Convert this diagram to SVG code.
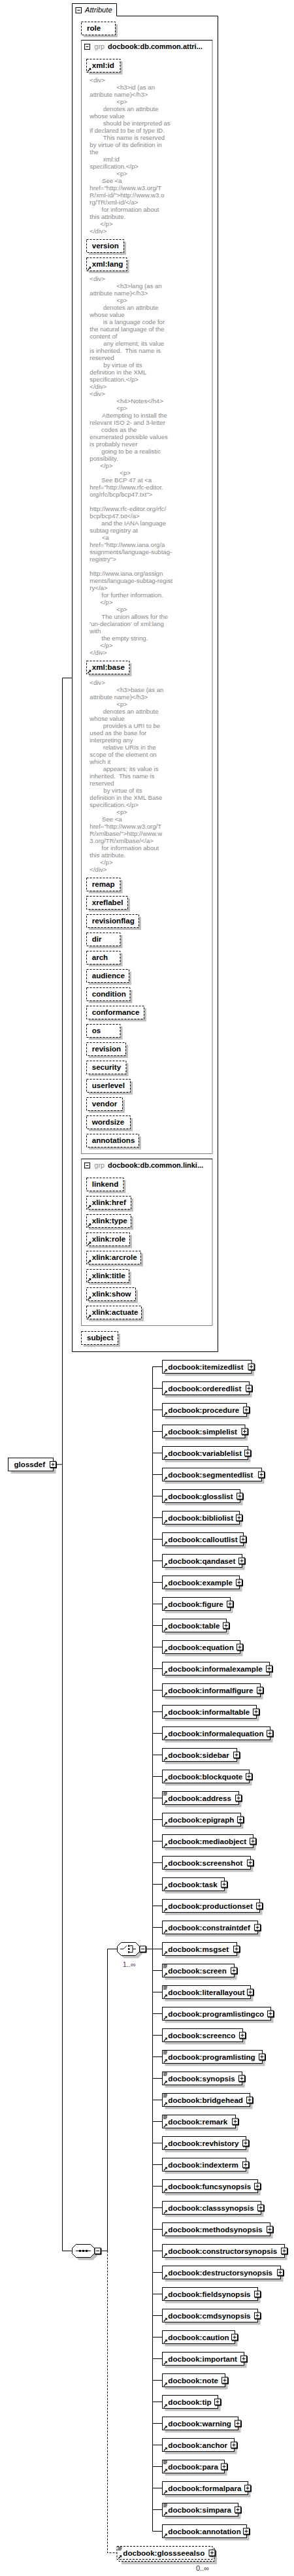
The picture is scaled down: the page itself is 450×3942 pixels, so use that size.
<svg xmlns="http://www.w3.org/2000/svg" xmlns:xlink="http://www.w3.org/1999/xlink" width="450" height="3942" viewBox="0 0 450 3942">
<style>
.d{font-family:"Liberation Sans",Arial,sans-serif;font-size:9.6px;fill:#888}
.en{font-family:"Liberation Sans",Arial,sans-serif;font-size:11.6px;font-weight:bold;fill:#000}
.gn{font-family:"Liberation Sans",Arial,sans-serif;font-size:11px;font-weight:bold;fill:#000}
.gl{font-family:"Liberation Sans",Arial,sans-serif;font-size:11px;fill:#888}
.ab{fill:#fff;stroke:#000;stroke-dasharray:3,2}
.sh{fill:#c0c0c0}
.eb{fill:#fff;stroke:#000}
.ln{stroke:#000;fill:none}
.dl{stroke:#000;fill:none;stroke-dasharray:3,2}
.gb{fill:none;stroke:#808080}
</style>
<defs>
<g id="pl"><rect x="1" y="1" width="10" height="10" fill="#000"/><rect x="0.5" y="0.5" width="9" height="9" fill="#fff" stroke="#000"/><path d="M2.5,5H7.5M5,2.5V7.5" stroke="#000"/></g>
<g id="mi"><rect x="1" y="1" width="10" height="10" fill="#000"/><rect x="0.5" y="0.5" width="9" height="9" fill="#fff" stroke="#000"/><path d="M2.5,5H7.5" stroke="#000"/></g>
<g id="ar"><path d="M2.3,18.7L5.6,15.4" stroke="#000" stroke-width="1.3"/><path d="M3.8,13.8H7.2V17.2Z" fill="#000"/></g>
<path id="mx" d="M1.5,1.5h6M1.5,3.5h6M1.5,5.5h5" stroke="#000" fill="none"/>
<polygon id="oc" points="6,-10 28,-10 34,-4 34,4 28,10 6,10 0,4 0,-4"/>
</defs>

<g id="connectors">
<path class="ln" d="M95.5,1037.5V3444.5M95.5,1037.5H110.5M87,2241H95.5M95.5,3444.5H110.5M155.5,3444.5H164.5M164.5,2982.5V3444.5M164.5,2982.5H179.5M224.5,2982.5H233.5M233.5,2091.5V3873.5"/>
<path class="dl" d="M164.5,3444.5V3906.5H179"/>
<path class="ln" d="M233.5,2091.5h15M233.5,2124.5h15M233.5,2157.5h15M233.5,2190.5h15M233.5,2223.5h15M233.5,2256.5h15M233.5,2289.5h15M233.5,2322.5h15M233.5,2355.5h15M233.5,2388.5h15M233.5,2421.5h15M233.5,2454.5h15M233.5,2487.5h15M233.5,2520.5h15M233.5,2553.5h15M233.5,2586.5h15M233.5,2619.5h15M233.5,2652.5h15M233.5,2685.5h15M233.5,2718.5h15M233.5,2751.5h15M233.5,2784.5h15M233.5,2817.5h15M233.5,2850.5h15M233.5,2883.5h15M233.5,2916.5h15M233.5,2949.5h15M233.5,2982.5h15M233.5,3015.5h15M233.5,3048.5h15M233.5,3081.5h15M233.5,3114.5h15M233.5,3147.5h15M233.5,3180.5h15M233.5,3213.5h15M233.5,3246.5h15M233.5,3279.5h15M233.5,3312.5h15M233.5,3345.5h15M233.5,3378.5h15M233.5,3411.5h15M233.5,3444.5h15M233.5,3477.5h15M233.5,3510.5h15M233.5,3543.5h15M233.5,3576.5h15M233.5,3609.5h15M233.5,3642.5h15M233.5,3675.5h15M233.5,3708.5h15M233.5,3741.5h15M233.5,3774.5h15M233.5,3807.5h15M233.5,3840.5h15M233.5,3873.5h15"/>
</g>

<g id="attributes">
<path d="M110.5,2068.5V5.5H178.5V24.5H333.5V2068.5Z" fill="#fff" stroke="#000"/>
<rect x="116" y="11.5" width="8.5" height="8.5" fill="#fff" stroke="#000"/><path d="M118,15.75H122.5" stroke="#000"/>
<text x="130" y="19" font-family="Liberation Sans, Arial, sans-serif" font-size="11.2" font-style="italic">Attribute</text>

<g id="a-role"><rect class="sh" x="128" y="37" width="52" height="20"/><rect class="ab" x="124.5" y="33.5" width="52" height="20"/><text class="en" x="133" y="46.8">role</text></g>

<g id="grp-common">
<rect class="gb" x="124.5" y="61.5" width="200.5" height="1704"/>
<path class="ln" d="M124.5,61.5H325"/>
<rect x="129.5" y="67.5" width="8" height="8" fill="#fff" stroke="#000"/><path d="M131.5,71.5H135.5" stroke="#000"/>
<text class="gl" x="144.3" y="74.5">grp</text>
<text class="gn" x="165" y="74.5">docbook:db.common.attri...</text>

<g id="a-xmlid"><rect class="sh" x="136" y="94" width="51.5" height="20"/><rect class="ab" x="132.5" y="90.5" width="51.5" height="20"/><use href="#ar" x="132" y="90.5"/><text class="en" x="140.7" y="103.8">xml:id</text></g>
<text class="d" y="125.7"><tspan x="137.3">&lt;div&gt;</tspan>
<tspan x="178.3" dy="11">&lt;h3&gt;id (as an</tspan>
<tspan x="137.3" dy="11">attribute name)&lt;/h3&gt;</tspan>
<tspan x="178.3" dy="11">&lt;p&gt;</tspan>
<tspan x="157.7" dy="11">denotes an attribute</tspan>
<tspan x="137.3" dy="11">whose value</tspan>
<tspan x="157.7" dy="11">should be interpreted as</tspan>
<tspan x="137.3" dy="11">if declared to be of type ID.</tspan>
<tspan x="157.7" dy="11">This name is reserved</tspan>
<tspan x="137.3" dy="11">by virtue of its definition in</tspan>
<tspan x="137.3" dy="11">the</tspan>
<tspan x="157.7" dy="11">xml:id</tspan>
<tspan x="137.3" dy="11">specification.&lt;/p&gt;</tspan>
<tspan x="178.3" dy="11">&lt;p&gt;</tspan>
<tspan x="156" dy="11">See &lt;a</tspan>
<tspan x="137.3" dy="11">href="http://www.w3.org/T</tspan>
<tspan x="137.3" dy="11">R/xml-id/"&gt;http://www.w3.o</tspan>
<tspan x="137.3" dy="11">rg/TR/xml-id/&lt;/a&gt;</tspan>
<tspan x="155.5" dy="11">for information about</tspan>
<tspan x="137.3" dy="11">this attribute.</tspan>
<tspan x="153.3" dy="11">&lt;/p&gt;</tspan>
<tspan x="137.3" dy="11">&lt;/div&gt;</tspan></text>

<g id="a-version"><rect class="sh" x="136" y="370" width="57" height="20"/><rect class="ab" x="132.5" y="366.5" width="57" height="20"/><text class="en" x="140.7" y="379.8">version</text></g>
<g id="a-xmllang"><rect class="sh" x="136" y="398" width="61.5" height="20"/><rect class="ab" x="132.5" y="394.5" width="61.5" height="20"/><use href="#ar" x="132" y="394.5"/><text class="en" x="140.7" y="407.8">xml:lang</text></g>
<text class="d" y="430.2"><tspan x="137.3">&lt;div&gt;</tspan>
<tspan x="178.3" dy="11">&lt;h3&gt;lang (as an</tspan>
<tspan x="137.3" dy="11">attribute name)&lt;/h3&gt;</tspan>
<tspan x="178.3" dy="11">&lt;p&gt;</tspan>
<tspan x="157.7" dy="11">denotes an attribute</tspan>
<tspan x="137.3" dy="11">whose value</tspan>
<tspan x="157.7" dy="11">is a language code for</tspan>
<tspan x="137.3" dy="11">the natural language of the</tspan>
<tspan x="137.3" dy="11">content of</tspan>
<tspan x="158.3" dy="11">any element; its value</tspan>
<tspan x="137.3" dy="11">is inherited.&#160; This name is</tspan>
<tspan x="137.3" dy="11">reserved</tspan>
<tspan x="158.3" dy="11">by virtue of its</tspan>
<tspan x="137.3" dy="11">definition in the XML</tspan>
<tspan x="137.3" dy="11">specification.&lt;/p&gt;</tspan>
<tspan x="137.3" dy="11">&lt;/div&gt;</tspan>
<tspan x="137.3" dy="11">&lt;div&gt;</tspan>
<tspan x="178.3" dy="11">&lt;h4&gt;Notes&lt;/h4&gt;</tspan>
<tspan x="178.3" dy="11">&lt;p&gt;</tspan>
<tspan x="156" dy="11">Attempting to install the</tspan>
<tspan x="137.3" dy="11">relevant ISO 2- and 3-letter</tspan>
<tspan x="155" dy="11">codes as the</tspan>
<tspan x="137.3" dy="11">enumerated possible values</tspan>
<tspan x="137.3" dy="11">is probably never</tspan>
<tspan x="155.3" dy="11">going to be a realistic</tspan>
<tspan x="137.3" dy="11">possibility.</tspan>
<tspan x="153.3" dy="11">&lt;/p&gt;</tspan>
<tspan x="183.3" dy="11">&lt;p&gt;</tspan>
<tspan x="155.3" dy="11">See BCP 47 at &lt;a</tspan>
<tspan x="137.3" dy="11">href="http://www.rfc-editor.</tspan>
<tspan x="137.3" dy="11">org/rfc/bcp/bcp47.txt"&gt;</tspan>
<tspan x="137.3" dy="22">http://www.rfc-editor.org/rfc/</tspan>
<tspan x="137.3" dy="11">bcp/bcp47.txt&lt;/a&gt;</tspan>
<tspan x="155.3" dy="11">and the IANA language</tspan>
<tspan x="137.3" dy="11">subtag registry at</tspan>
<tspan x="156" dy="11">&lt;a</tspan>
<tspan x="137.3" dy="11">href="http://www.iana.org/a</tspan>
<tspan x="137.3" dy="11">ssignments/language-subtag-</tspan>
<tspan x="137.3" dy="11">registry"&gt;</tspan>
<tspan x="137.3" dy="22">http://www.iana.org/assign</tspan>
<tspan x="137.3" dy="11">ments/language-subtag-regist</tspan>
<tspan x="137.3" dy="11">ry&lt;/a&gt;</tspan>
<tspan x="155.3" dy="11">for further information.</tspan>
<tspan x="153.3" dy="11">&lt;/p&gt;</tspan>
<tspan x="178.3" dy="11">&lt;p&gt;</tspan>
<tspan x="155.3" dy="11">The union allows for the</tspan>
<tspan x="137.3" dy="11">'un-declaration' of xml:lang</tspan>
<tspan x="137.3" dy="11">with</tspan>
<tspan x="155.3" dy="11">the empty string.</tspan>
<tspan x="153.3" dy="11">&lt;/p&gt;</tspan>
<tspan x="137.3" dy="11">&lt;/div&gt;</tspan></text>

<g id="a-xmlbase"><rect class="sh" x="136" y="1015" width="65.5" height="20"/><rect class="ab" x="132.5" y="1011.5" width="65.5" height="20"/><use href="#ar" x="132" y="1011.5"/><text class="en" x="140.7" y="1024.8">xml:base</text></g>
<text class="d" y="1047.7"><tspan x="137.3">&lt;div&gt;</tspan>
<tspan x="178.3" dy="11">&lt;h3&gt;base (as an</tspan>
<tspan x="137.3" dy="11">attribute name)&lt;/h3&gt;</tspan>
<tspan x="178.3" dy="11">&lt;p&gt;</tspan>
<tspan x="157.7" dy="11">denotes an attribute</tspan>
<tspan x="137.3" dy="11">whose value</tspan>
<tspan x="157.7" dy="11">provides a URI to be</tspan>
<tspan x="137.3" dy="11">used as the base for</tspan>
<tspan x="137.3" dy="11">interpreting any</tspan>
<tspan x="157.7" dy="11">relative URIs in the</tspan>
<tspan x="137.3" dy="11">scope of the element on</tspan>
<tspan x="137.3" dy="11">which it</tspan>
<tspan x="157.7" dy="11">appears; its value is</tspan>
<tspan x="137.3" dy="11">inherited.&#160; This name is</tspan>
<tspan x="137.3" dy="11">reserved</tspan>
<tspan x="158.3" dy="11">by virtue of its</tspan>
<tspan x="137.3" dy="11">definition in the XML Base</tspan>
<tspan x="137.3" dy="11">specification.&lt;/p&gt;</tspan>
<tspan x="178.3" dy="11">&lt;p&gt;</tspan>
<tspan x="156" dy="11">See &lt;a</tspan>
<tspan x="137.3" dy="11">href="http://www.w3.org/T</tspan>
<tspan x="137.3" dy="11">R/xmlbase/"&gt;http://www.w</tspan>
<tspan x="137.3" dy="11">3.org/TR/xmlbase/&lt;/a&gt;</tspan>
<tspan x="155.3" dy="11">for information about</tspan>
<tspan x="137.3" dy="11">this attribute.</tspan>
<tspan x="153.3" dy="11">&lt;/p&gt;</tspan>
<tspan x="137.3" dy="11">&lt;/div&gt;</tspan></text>

<g id="a-remap"><rect class="sh" x="136" y="1347" width="51.5" height="20"/><rect class="ab" x="132.5" y="1343.5" width="51.5" height="20"/><text class="en" x="140.7" y="1356.8">remap</text></g>
<g id="a-xreflabel"><rect class="sh" x="136" y="1375" width="63" height="20"/><rect class="ab" x="132.5" y="1371.5" width="63" height="20"/><text class="en" x="140.7" y="1384.8">xreflabel</text></g>
<g id="a-revisionflag"><rect class="sh" x="136" y="1403" width="80" height="20"/><rect class="ab" x="132.5" y="1399.5" width="80" height="20"/><text class="en" x="140.7" y="1412.8">revisionflag</text></g>
<g id="a-dir"><rect class="sh" x="136" y="1431" width="51.5" height="20"/><rect class="ab" x="132.5" y="1427.5" width="51.5" height="20"/><text class="en" x="140.7" y="1440.8">dir</text></g>
<g id="a-arch"><rect class="sh" x="136" y="1459" width="51.5" height="20"/><rect class="ab" x="132.5" y="1455.5" width="51.5" height="20"/><text class="en" x="140.7" y="1468.8">arch</text></g>
<g id="a-audience"><rect class="sh" x="136" y="1487" width="65" height="20"/><rect class="ab" x="132.5" y="1483.5" width="65" height="20"/><text class="en" x="140.7" y="1496.8">audience</text></g>
<g id="a-condition"><rect class="sh" x="136" y="1515" width="66.5" height="20"/><rect class="ab" x="132.5" y="1511.5" width="66.5" height="20"/><text class="en" x="140.7" y="1524.8">condition</text></g>
<g id="a-conformance"><rect class="sh" x="136" y="1543" width="88" height="20"/><rect class="ab" x="132.5" y="1539.5" width="88" height="20"/><text class="en" x="140.7" y="1552.8">conformance</text></g>
<g id="a-os"><rect class="sh" x="136" y="1571" width="51.5" height="20"/><rect class="ab" x="132.5" y="1567.5" width="51.5" height="20"/><text class="en" x="140.7" y="1580.8">os</text></g>
<g id="a-revision"><rect class="sh" x="136" y="1599" width="60" height="20"/><rect class="ab" x="132.5" y="1595.5" width="60" height="20"/><text class="en" x="140.7" y="1608.8">revision</text></g>
<g id="a-security"><rect class="sh" x="136" y="1627" width="60.5" height="20"/><rect class="ab" x="132.5" y="1623.5" width="60.5" height="20"/><text class="en" x="140.7" y="1636.8">security</text></g>
<g id="a-userlevel"><rect class="sh" x="136" y="1655" width="67" height="20"/><rect class="ab" x="132.5" y="1651.5" width="67" height="20"/><text class="en" x="140.7" y="1664.8">userlevel</text></g>
<g id="a-vendor"><rect class="sh" x="136" y="1683" width="55" height="20"/><rect class="ab" x="132.5" y="1679.5" width="55" height="20"/><text class="en" x="140.7" y="1692.8">vendor</text></g>
<g id="a-wordsize"><rect class="sh" x="136" y="1711" width="67" height="20"/><rect class="ab" x="132.5" y="1707.5" width="67" height="20"/><text class="en" x="140.7" y="1720.8">wordsize</text></g>
<g id="a-annotations"><rect class="sh" x="136" y="1739" width="80" height="20"/><rect class="ab" x="132.5" y="1735.5" width="80" height="20"/><text class="en" x="140.7" y="1748.8">annotations</text></g>
</g>

<g id="grp-linking">
<rect class="gb" x="124.5" y="1773.5" width="200.5" height="255"/>
<path class="ln" d="M124.5,1773.5H325"/>
<rect x="129.5" y="1779.5" width="8" height="8" fill="#fff" stroke="#000"/><path d="M131.5,1783.5H135.5" stroke="#000"/>
<text class="gl" x="144.3" y="1786.5">grp</text>
<text class="gn" x="165" y="1786.5">docbook:db.common.linki...</text>
<g id="a-linkend"><rect class="sh" x="136" y="1806" width="56.5" height="20"/><rect class="ab" x="132.5" y="1802.5" width="56.5" height="20"/><text class="en" x="140.7" y="1815.8">linkend</text></g>
<g id="a-xlinkhref"><rect class="sh" x="136" y="1834" width="68" height="20"/><rect class="ab" x="132.5" y="1830.5" width="68" height="20"/><use href="#ar" x="132" y="1830.5"/><text class="en" x="140.7" y="1843.8">xlink:href</text></g>
<g id="a-xlinktype"><rect class="sh" x="136" y="1862" width="68" height="20"/><rect class="ab" x="132.5" y="1858.5" width="68" height="20"/><use href="#ar" x="132" y="1858.5"/><text class="en" x="140.7" y="1871.8">xlink:type</text></g>
<g id="a-xlinkrole"><rect class="sh" x="136" y="1890" width="66" height="20"/><rect class="ab" x="132.5" y="1886.5" width="66" height="20"/><use href="#ar" x="132" y="1886.5"/><text class="en" x="140.7" y="1899.8">xlink:role</text></g>
<g id="a-xlinkarcrole"><rect class="sh" x="136" y="1918" width="83" height="20"/><rect class="ab" x="132.5" y="1914.5" width="83" height="20"/><use href="#ar" x="132" y="1914.5"/><text class="en" x="140.7" y="1927.8">xlink:arcrole</text></g>
<g id="a-xlinktitle"><rect class="sh" x="136" y="1946" width="65" height="20"/><rect class="ab" x="132.5" y="1942.5" width="65" height="20"/><use href="#ar" x="132" y="1942.5"/><text class="en" x="140.7" y="1955.8">xlink:title</text></g>
<g id="a-xlinkshow"><rect class="sh" x="136" y="1974" width="75" height="20"/><rect class="ab" x="132.5" y="1970.5" width="75" height="20"/><use href="#ar" x="132" y="1970.5"/><text class="en" x="140.7" y="1983.8">xlink:show</text></g>
<g id="a-xlinkactuate"><rect class="sh" x="136" y="2002" width="84" height="20"/><rect class="ab" x="132.5" y="1998.5" width="84" height="20"/><use href="#ar" x="132" y="1998.5"/><text class="en" x="140.7" y="2011.8">xlink:actuate</text></g>
</g>
<g id="a-subject"><rect class="sh" x="128" y="2041" width="56" height="20"/><rect class="ab" x="124.5" y="2037.5" width="56" height="20"/><text class="en" x="133" y="2050.8">subject</text></g>
</g>

<g id="n-glossdef"><rect class="sh" x="16.5" y="2235" width="69" height="20"/><rect class="eb" x="12.5" y="2231" width="69" height="20"/><text class="en" x="21.5" y="2245">glossdef</text><use href="#pl" x="76" y="2236"/></g>

<g id="n-sequence"><use href="#oc" x="114.5" y="3448.5" fill="#c0c0c0"/><use href="#oc" x="110.5" y="3444.5" fill="#fff" stroke="#000"/><path d="M116,3444.5H139" stroke="#000"/><rect x="121" y="3443" width="3" height="3"/><rect x="126" y="3443" width="3" height="3"/><rect x="131" y="3443" width="3" height="3"/><use href="#mi" x="144.5" y="3439.5"/></g>

<g id="n-choice"><use href="#oc" x="183.5" y="2986.5" fill="#c0c0c0"/><use href="#oc" x="179.5" y="2982.5" fill="#fff" stroke="#000"/><path d="M184,2982.5H189L194,2977.5M199,2977.5H203V2987.5H199M203,2982.5H208" stroke="#000" fill="none"/><rect x="196" y="2976.5" width="2.5" height="2.5"/><rect x="196" y="2981.3" width="2.5" height="2.5"/><rect x="196" y="2986" width="2.5" height="2.5"/><use href="#mi" x="213.5" y="2977.5"/><text x="187.7" y="3009.5" font-family="Liberation Sans, Arial, sans-serif" font-size="11" fill="#663366">1..∞</text></g>

<g id="elements">
<g id="n-itemizedlist" transform="translate(0,2091.5)"><rect class="sh" x="252.5" y="-6" width="136.5" height="20"/><rect class="eb" x="248.5" y="-10" width="136.5" height="20"/><use href="#ar" x="248.5" y="-10"/><text class="en" x="257.3" y="4">docbook:itemizedlist</text><use href="#pl" x="379.5" y="-5"/></g>
<g id="n-orderedlist" transform="translate(0,2124.5)"><rect class="sh" x="252.5" y="-6" width="133" height="20"/><rect class="eb" x="248.5" y="-10" width="133" height="20"/><use href="#ar" x="248.5" y="-10"/><text class="en" x="257.3" y="4">docbook:orderedlist</text><use href="#pl" x="376" y="-5"/></g>
<g id="n-procedure" transform="translate(0,2157.5)"><rect class="sh" x="252.5" y="-6" width="129" height="20"/><rect class="eb" x="248.5" y="-10" width="129" height="20"/><use href="#ar" x="248.5" y="-10"/><text class="en" x="257.3" y="4">docbook:procedure</text><use href="#pl" x="372" y="-5"/></g>
<g id="n-simplelist" transform="translate(0,2190.5)"><rect class="sh" x="252.5" y="-6" width="126.5" height="20"/><rect class="eb" x="248.5" y="-10" width="126.5" height="20"/><use href="#ar" x="248.5" y="-10"/><text class="en" x="257.3" y="4">docbook:simplelist</text><use href="#pl" x="369.5" y="-5"/></g>
<g id="n-variablelist" transform="translate(0,2223.5)"><rect class="sh" x="252.5" y="-6" width="131" height="20"/><rect class="eb" x="248.5" y="-10" width="131" height="20"/><use href="#ar" x="248.5" y="-10"/><text class="en" x="257.3" y="4">docbook:variablelist</text><use href="#pl" x="374" y="-5"/></g>
<g id="n-segmentedlist" transform="translate(0,2256.5)"><rect class="sh" x="252.5" y="-6" width="152" height="20"/><rect class="eb" x="248.5" y="-10" width="152" height="20"/><use href="#ar" x="248.5" y="-10"/><text class="en" x="257.3" y="4">docbook:segmentedlist</text><use href="#pl" x="395" y="-5"/></g>
<g id="n-glosslist" transform="translate(0,2289.5)"><rect class="sh" x="252.5" y="-6" width="119" height="20"/><rect class="eb" x="248.5" y="-10" width="119" height="20"/><use href="#ar" x="248.5" y="-10"/><text class="en" x="257.3" y="4">docbook:glosslist</text><use href="#pl" x="362" y="-5"/></g>
<g id="n-bibliolist" transform="translate(0,2322.5)"><rect class="sh" x="252.5" y="-6" width="118" height="20"/><rect class="eb" x="248.5" y="-10" width="118" height="20"/><use href="#ar" x="248.5" y="-10"/><text class="en" x="257.3" y="4">docbook:bibliolist</text><use href="#pl" x="361" y="-5"/></g>
<g id="n-calloutlist" transform="translate(0,2355.5)"><rect class="sh" x="252.5" y="-6" width="124" height="20"/><rect class="eb" x="248.5" y="-10" width="124" height="20"/><use href="#ar" x="248.5" y="-10"/><text class="en" x="257.3" y="4">docbook:calloutlist</text><use href="#pl" x="367" y="-5"/></g>
<g id="n-qandaset" transform="translate(0,2388.5)"><rect class="sh" x="252.5" y="-6" width="122" height="20"/><rect class="eb" x="248.5" y="-10" width="122" height="20"/><use href="#ar" x="248.5" y="-10"/><text class="en" x="257.3" y="4">docbook:qandaset</text><use href="#pl" x="365" y="-5"/></g>
<g id="n-example" transform="translate(0,2421.5)"><rect class="sh" x="252.5" y="-6" width="118" height="20"/><rect class="eb" x="248.5" y="-10" width="118" height="20"/><use href="#ar" x="248.5" y="-10"/><text class="en" x="257.3" y="4">docbook:example</text><use href="#pl" x="361" y="-5"/></g>
<g id="n-figure" transform="translate(0,2454.5)"><rect class="sh" x="252.5" y="-6" width="104" height="20"/><rect class="eb" x="248.5" y="-10" width="104" height="20"/><use href="#ar" x="248.5" y="-10"/><text class="en" x="257.3" y="4">docbook:figure</text><use href="#pl" x="347" y="-5"/></g>
<g id="n-table" transform="translate(0,2487.5)"><rect class="sh" x="252.5" y="-6" width="98" height="20"/><rect class="eb" x="248.5" y="-10" width="98" height="20"/><use href="#ar" x="248.5" y="-10"/><text class="en" x="257.3" y="4">docbook:table</text><use href="#pl" x="341" y="-5"/></g>
<g id="n-equation" transform="translate(0,2520.5)"><rect class="sh" x="252.5" y="-6" width="119" height="20"/><rect class="eb" x="248.5" y="-10" width="119" height="20"/><use href="#ar" x="248.5" y="-10"/><text class="en" x="257.3" y="4">docbook:equation</text><use href="#pl" x="362" y="-5"/></g>
<g id="n-informalexample" transform="translate(0,2553.5)"><rect class="sh" x="252.5" y="-6" width="164" height="20"/><rect class="eb" x="248.5" y="-10" width="164" height="20"/><use href="#ar" x="248.5" y="-10"/><text class="en" x="257.3" y="4">docbook:informalexample</text><use href="#pl" x="407" y="-5"/></g>
<g id="n-informalfigure" transform="translate(0,2586.5)"><rect class="sh" x="252.5" y="-6" width="150" height="20"/><rect class="eb" x="248.5" y="-10" width="150" height="20"/><use href="#ar" x="248.5" y="-10"/><text class="en" x="257.3" y="4">docbook:informalfigure</text><use href="#pl" x="393" y="-5"/></g>
<g id="n-informaltable" transform="translate(0,2619.5)"><rect class="sh" x="252.5" y="-6" width="144" height="20"/><rect class="eb" x="248.5" y="-10" width="144" height="20"/><use href="#ar" x="248.5" y="-10"/><text class="en" x="257.3" y="4">docbook:informaltable</text><use href="#pl" x="387" y="-5"/></g>
<g id="n-informalequation" transform="translate(0,2652.5)"><rect class="sh" x="252.5" y="-6" width="165" height="20"/><rect class="eb" x="248.5" y="-10" width="165" height="20"/><use href="#ar" x="248.5" y="-10"/><text class="en" x="257.3" y="4">docbook:informalequation</text><use href="#pl" x="408" y="-5"/></g>
<g id="n-sidebar" transform="translate(0,2685.5)"><rect class="sh" x="252.5" y="-6" width="114" height="20"/><rect class="eb" x="248.5" y="-10" width="114" height="20"/><use href="#ar" x="248.5" y="-10"/><text class="en" x="257.3" y="4">docbook:sidebar</text><use href="#pl" x="357" y="-5"/></g>
<g id="n-blockquote" transform="translate(0,2718.5)"><rect class="sh" x="252.5" y="-6" width="133" height="20"/><rect class="eb" x="248.5" y="-10" width="133" height="20"/><use href="#ar" x="248.5" y="-10"/><text class="en" x="257.3" y="4">docbook:blockquote</text><use href="#pl" x="376" y="-5"/></g>
<g id="n-address" transform="translate(0,2751.5)"><rect class="sh" x="252.5" y="-6" width="117" height="20"/><rect class="eb" x="248.5" y="-10" width="117" height="20"/><use href="#mx" x="248.5" y="-10"/><use href="#ar" x="248.5" y="-10"/><text class="en" x="257.3" y="4">docbook:address</text><use href="#pl" x="360" y="-5"/></g>
<g id="n-epigraph" transform="translate(0,2784.5)"><rect class="sh" x="252.5" y="-6" width="120" height="20"/><rect class="eb" x="248.5" y="-10" width="120" height="20"/><use href="#ar" x="248.5" y="-10"/><text class="en" x="257.3" y="4">docbook:epigraph</text><use href="#pl" x="363" y="-5"/></g>
<g id="n-mediaobject" transform="translate(0,2817.5)"><rect class="sh" x="252.5" y="-6" width="139" height="20"/><rect class="eb" x="248.5" y="-10" width="139" height="20"/><use href="#ar" x="248.5" y="-10"/><text class="en" x="257.3" y="4">docbook:mediaobject</text><use href="#pl" x="382" y="-5"/></g>
<g id="n-screenshot" transform="translate(0,2850.5)"><rect class="sh" x="252.5" y="-6" width="135" height="20"/><rect class="eb" x="248.5" y="-10" width="135" height="20"/><use href="#ar" x="248.5" y="-10"/><text class="en" x="257.3" y="4">docbook:screenshot</text><use href="#pl" x="378" y="-5"/></g>
<g id="n-task" transform="translate(0,2883.5)"><rect class="sh" x="252.5" y="-6" width="95" height="20"/><rect class="eb" x="248.5" y="-10" width="95" height="20"/><use href="#ar" x="248.5" y="-10"/><text class="en" x="257.3" y="4">docbook:task</text><use href="#pl" x="338" y="-5"/></g>
<g id="n-productionset" transform="translate(0,2916.5)"><rect class="sh" x="252.5" y="-6" width="149" height="20"/><rect class="eb" x="248.5" y="-10" width="149" height="20"/><use href="#ar" x="248.5" y="-10"/><text class="en" x="257.3" y="4">docbook:productionset</text><use href="#pl" x="392" y="-5"/></g>
<g id="n-constraintdef" transform="translate(0,2949.5)"><rect class="sh" x="252.5" y="-6" width="146" height="20"/><rect class="eb" x="248.5" y="-10" width="146" height="20"/><use href="#ar" x="248.5" y="-10"/><text class="en" x="257.3" y="4">docbook:constraintdef</text><use href="#pl" x="389" y="-5"/></g>
<g id="n-msgset" transform="translate(0,2982.5)"><rect class="sh" x="252.5" y="-6" width="114" height="20"/><rect class="eb" x="248.5" y="-10" width="114" height="20"/><use href="#ar" x="248.5" y="-10"/><text class="en" x="257.3" y="4">docbook:msgset</text><use href="#pl" x="357" y="-5"/></g>
<g id="n-screen" transform="translate(0,3015.5)"><rect class="sh" x="252.5" y="-6" width="110" height="20"/><rect class="eb" x="248.5" y="-10" width="110" height="20"/><use href="#mx" x="248.5" y="-10"/><use href="#ar" x="248.5" y="-10"/><text class="en" x="257.3" y="4">docbook:screen</text><use href="#pl" x="353" y="-5"/></g>
<g id="n-literallayout" transform="translate(0,3048.5)"><rect class="sh" x="252.5" y="-6" width="135" height="20"/><rect class="eb" x="248.5" y="-10" width="135" height="20"/><use href="#mx" x="248.5" y="-10"/><use href="#ar" x="248.5" y="-10"/><text class="en" x="257.3" y="4">docbook:literallayout</text><use href="#pl" x="378" y="-5"/></g>
<g id="n-programlistingco" transform="translate(0,3081.5)"><rect class="sh" x="252.5" y="-6" width="166" height="20"/><rect class="eb" x="248.5" y="-10" width="166" height="20"/><use href="#ar" x="248.5" y="-10"/><text class="en" x="257.3" y="4">docbook:programlistingco</text><use href="#pl" x="409" y="-5"/></g>
<g id="n-screenco" transform="translate(0,3114.5)"><rect class="sh" x="252.5" y="-6" width="123" height="20"/><rect class="eb" x="248.5" y="-10" width="123" height="20"/><use href="#ar" x="248.5" y="-10"/><text class="en" x="257.3" y="4">docbook:screenco</text><use href="#pl" x="366" y="-5"/></g>
<g id="n-programlisting" transform="translate(0,3147.5)"><rect class="sh" x="252.5" y="-6" width="153" height="20"/><rect class="eb" x="248.5" y="-10" width="153" height="20"/><use href="#mx" x="248.5" y="-10"/><use href="#ar" x="248.5" y="-10"/><text class="en" x="257.3" y="4">docbook:programlisting</text><use href="#pl" x="396" y="-5"/></g>
<g id="n-synopsis" transform="translate(0,3180.5)"><rect class="sh" x="252.5" y="-6" width="122" height="20"/><rect class="eb" x="248.5" y="-10" width="122" height="20"/><use href="#mx" x="248.5" y="-10"/><use href="#ar" x="248.5" y="-10"/><text class="en" x="257.3" y="4">docbook:synopsis</text><use href="#pl" x="365" y="-5"/></g>
<g id="n-bridgehead" transform="translate(0,3213.5)"><rect class="sh" x="252.5" y="-6" width="134" height="20"/><rect class="eb" x="248.5" y="-10" width="134" height="20"/><use href="#mx" x="248.5" y="-10"/><use href="#ar" x="248.5" y="-10"/><text class="en" x="257.3" y="4">docbook:bridgehead</text><use href="#pl" x="377" y="-5"/></g>
<g id="n-remark" transform="translate(0,3246.5)"><rect class="sh" x="252.5" y="-6" width="112" height="20"/><rect class="eb" x="248.5" y="-10" width="112" height="20"/><use href="#mx" x="248.5" y="-10"/><use href="#ar" x="248.5" y="-10"/><text class="en" x="257.3" y="4">docbook:remark</text><use href="#pl" x="355" y="-5"/></g>
<g id="n-revhistory" transform="translate(0,3279.5)"><rect class="sh" x="252.5" y="-6" width="128" height="20"/><rect class="eb" x="248.5" y="-10" width="128" height="20"/><use href="#ar" x="248.5" y="-10"/><text class="en" x="257.3" y="4">docbook:revhistory</text><use href="#pl" x="371" y="-5"/></g>
<g id="n-indexterm" transform="translate(0,3312.5)"><rect class="sh" x="252.5" y="-6" width="128" height="20"/><rect class="eb" x="248.5" y="-10" width="128" height="20"/><use href="#ar" x="248.5" y="-10"/><text class="en" x="257.3" y="4">docbook:indexterm</text><use href="#pl" x="371" y="-5"/></g>
<g id="n-funcsynopsis" transform="translate(0,3345.5)"><rect class="sh" x="252.5" y="-6" width="146" height="20"/><rect class="eb" x="248.5" y="-10" width="146" height="20"/><use href="#ar" x="248.5" y="-10"/><text class="en" x="257.3" y="4">docbook:funcsynopsis</text><use href="#pl" x="389" y="-5"/></g>
<g id="n-classsynopsis" transform="translate(0,3378.5)"><rect class="sh" x="252.5" y="-6" width="151" height="20"/><rect class="eb" x="248.5" y="-10" width="151" height="20"/><use href="#ar" x="248.5" y="-10"/><text class="en" x="257.3" y="4">docbook:classsynopsis</text><use href="#pl" x="394" y="-5"/></g>
<g id="n-methodsynopsis" transform="translate(0,3411.5)"><rect class="sh" x="252.5" y="-6" width="165" height="20"/><rect class="eb" x="248.5" y="-10" width="165" height="20"/><use href="#ar" x="248.5" y="-10"/><text class="en" x="257.3" y="4">docbook:methodsynopsis</text><use href="#pl" x="408" y="-5"/></g>
<g id="n-constructorsynopsis" transform="translate(0,3444.5)"><rect class="sh" x="252.5" y="-6" width="187" height="20"/><rect class="eb" x="248.5" y="-10" width="187" height="20"/><use href="#ar" x="248.5" y="-10"/><text class="en" x="257.3" y="4">docbook:constructorsynopsis</text><use href="#pl" x="430" y="-5"/></g>
<g id="n-destructorsynopsis" transform="translate(0,3477.5)"><rect class="sh" x="252.5" y="-6" width="181" height="20"/><rect class="eb" x="248.5" y="-10" width="181" height="20"/><use href="#ar" x="248.5" y="-10"/><text class="en" x="257.3" y="4">docbook:destructorsynopsis</text><use href="#pl" x="424" y="-5"/></g>
<g id="n-fieldsynopsis" transform="translate(0,3510.5)"><rect class="sh" x="252.5" y="-6" width="146" height="20"/><rect class="eb" x="248.5" y="-10" width="146" height="20"/><use href="#ar" x="248.5" y="-10"/><text class="en" x="257.3" y="4">docbook:fieldsynopsis</text><use href="#pl" x="389" y="-5"/></g>
<g id="n-cmdsynopsis" transform="translate(0,3543.5)"><rect class="sh" x="252.5" y="-6" width="146" height="20"/><rect class="eb" x="248.5" y="-10" width="146" height="20"/><use href="#ar" x="248.5" y="-10"/><text class="en" x="257.3" y="4">docbook:cmdsynopsis</text><use href="#pl" x="389" y="-5"/></g>
<g id="n-caution" transform="translate(0,3576.5)"><rect class="sh" x="252.5" y="-6" width="111" height="20"/><rect class="eb" x="248.5" y="-10" width="111" height="20"/><use href="#ar" x="248.5" y="-10"/><text class="en" x="257.3" y="4">docbook:caution</text><use href="#pl" x="354" y="-5"/></g>
<g id="n-important" transform="translate(0,3609.5)"><rect class="sh" x="252.5" y="-6" width="125" height="20"/><rect class="eb" x="248.5" y="-10" width="125" height="20"/><use href="#ar" x="248.5" y="-10"/><text class="en" x="257.3" y="4">docbook:important</text><use href="#pl" x="368" y="-5"/></g>
<g id="n-note" transform="translate(0,3642.5)"><rect class="sh" x="252.5" y="-6" width="96" height="20"/><rect class="eb" x="248.5" y="-10" width="96" height="20"/><use href="#ar" x="248.5" y="-10"/><text class="en" x="257.3" y="4">docbook:note</text><use href="#pl" x="339" y="-5"/></g>
<g id="n-tip" transform="translate(0,3675.5)"><rect class="sh" x="252.5" y="-6" width="85" height="20"/><rect class="eb" x="248.5" y="-10" width="85" height="20"/><use href="#ar" x="248.5" y="-10"/><text class="en" x="257.3" y="4">docbook:tip</text><use href="#pl" x="328" y="-5"/></g>
<g id="n-warning" transform="translate(0,3708.5)"><rect class="sh" x="252.5" y="-6" width="116" height="20"/><rect class="eb" x="248.5" y="-10" width="116" height="20"/><use href="#ar" x="248.5" y="-10"/><text class="en" x="257.3" y="4">docbook:warning</text><use href="#pl" x="359" y="-5"/></g>
<g id="n-anchor" transform="translate(0,3741.5)"><rect class="sh" x="252.5" y="-6" width="110" height="20"/><rect class="eb" x="248.5" y="-10" width="110" height="20"/><use href="#ar" x="248.5" y="-10"/><text class="en" x="257.3" y="4">docbook:anchor</text><use href="#pl" x="353" y="-5"/></g>
<g id="n-para" transform="translate(0,3774.5)"><rect class="sh" x="252.5" y="-6" width="95" height="20"/><rect class="eb" x="248.5" y="-10" width="95" height="20"/><use href="#mx" x="248.5" y="-10"/><use href="#ar" x="248.5" y="-10"/><text class="en" x="257.3" y="4">docbook:para</text><use href="#pl" x="338" y="-5"/></g>
<g id="n-formalpara" transform="translate(0,3807.5)"><rect class="sh" x="252.5" y="-6" width="131" height="20"/><rect class="eb" x="248.5" y="-10" width="131" height="20"/><use href="#ar" x="248.5" y="-10"/><text class="en" x="257.3" y="4">docbook:formalpara</text><use href="#pl" x="374" y="-5"/></g>
<g id="n-simpara" transform="translate(0,3840.5)"><rect class="sh" x="252.5" y="-6" width="116" height="20"/><rect class="eb" x="248.5" y="-10" width="116" height="20"/><use href="#mx" x="248.5" y="-10"/><use href="#ar" x="248.5" y="-10"/><text class="en" x="257.3" y="4">docbook:simpara</text><use href="#pl" x="359" y="-5"/></g>
<g id="n-annotation" transform="translate(0,3873.5)"><rect class="sh" x="252.5" y="-6" width="129" height="20"/><rect class="eb" x="248.5" y="-10" width="129" height="20"/><use href="#ar" x="248.5" y="-10"/><text class="en" x="257.3" y="4">docbook:annotation</text><use href="#pl" x="372" y="-5"/></g>
</g>

<g id="n-glossseealso">
<rect class="sh" x="186" y="3904" width="146" height="20"/>
<rect class="ab" x="182" y="3899.5" width="146" height="20"/>
<rect class="ab" x="179" y="3896.5" width="146" height="20"/>
<use href="#mx" x="179" y="3896.5"/><use href="#ar" x="179" y="3896.5"/>
<text class="en" x="188.3" y="3910.5">docbook:glossseealso</text>
<use href="#pl" x="319.5" y="3901.5"/>
<text x="300" y="3934" font-family="Liberation Sans, Arial, sans-serif" font-size="11" fill="#333">0..∞</text>
</g>
</svg>
